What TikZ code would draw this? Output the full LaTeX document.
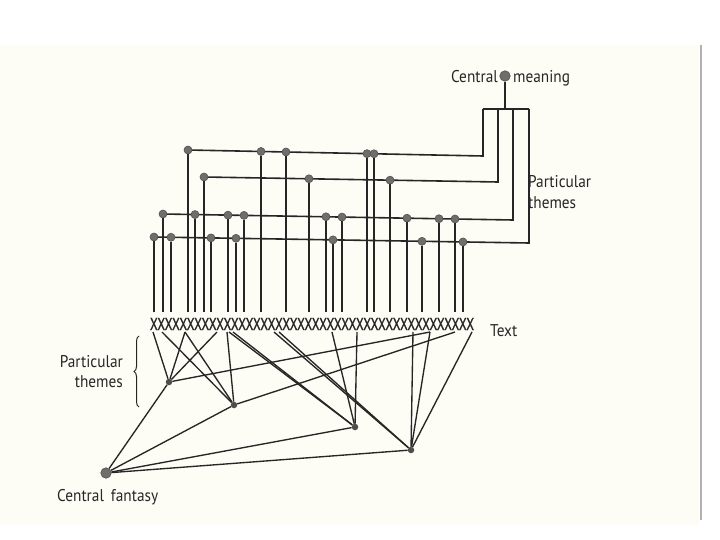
\documentclass[tikz,border=0pt]{standalone}
\usepackage{fontspec}
\setmainfont{PT Sans}[FakeStretch=0.9]
\newfontfamily\xrowfont{PT Sans}[FakeBold=1.2]
\usetikzlibrary{decorations.pathreplacing}
\definecolor{paper}{HTML}{FDFCF5}
\definecolor{ink}{HTML}{262626}
\definecolor{dotc}{HTML}{6E6E6A}
\begin{document}
\begin{tikzpicture}[x=1pt,y=-1pt,
  ln/.style={draw=ink,line width=1.6pt},
  thinln/.style={draw=ink,line width=1.35pt},
  dot/.style={circle,fill=dotc,draw=ink!80,line width=0.6pt,inner sep=0pt,minimum size=8pt},
  bigdot/.style={dot,minimum size=10.5pt},
  tdot/.style={circle,fill=dotc!70!black,inner sep=0pt,minimum size=6.5pt},
  lbl/.style={font=\fontsize{17}{20}\selectfont,text=ink,inner sep=0pt}]
\useasboundingbox (0,0) rectangle (720,540);
\fill[white] (0,0) rectangle (720,540);
\fill[paper] (0,45) rectangle (699,525);
\draw[gray!60,line width=1.5pt] (701,45) -- (701,520);

% central meaning
\node[bigdot] (cm) at (505,76) {};
\node[lbl,anchor=base east] (cmL) at (498,83) {Central};
\node[lbl,anchor=base west] (cmR) at (513,83) {meaning};
\coordinate (hub) at (505,109);
\coordinate (T1) at (483,109);
\coordinate (T2) at (498,109);
\coordinate (T3) at (513,109);
\coordinate (T4) at (529,109);
\draw[ln] (cm) -- (hub);
\draw[ln] (T1) -- (T4);

% particular theme lines (top)
\foreach \k/\xa/\ya/\xb/\yb/\ds in {
  1/188/150/483/156/{188,261,286,367,374},
  2/204/177/498/182/{204,309,390},
  3/163/214/513/220/{163,195,228,244,326,342,407,439,455},
  4/154/237/529/243/{154,171,211,236,333,422,463}}{
  \coordinate (L\k a) at (\xa,\ya);
  \coordinate (L\k b) at (\xb,\yb);
  \draw[ln] (L\k a) -- (L\k b) -- (T\k);
  \foreach \x in \ds {
    \pgfmathsetmacro\yy{\ya+(\x-\xa)*(\yb-\ya)/(\xb-\xa)}
    \coordinate (e\k-\x) at (\x,312);
    \node[dot] (d\k-\x) at (\x,\yy) {};
    \draw[ln] (d\k-\x) -- (e\k-\x);
  }
}
\node[lbl,anchor=base west] (ptR1) at (528,188) {Particular};
\node[lbl,anchor=base west] (ptR2) at (528,208) {themes};

% text row
\node[inner sep=0pt,text=ink] (txt) at (312,324)
  {\resizebox{324pt}{12pt}{\xrowfont XXXXXXXXXXXXXXXXXXXXXXXXXXXXXXXXXXXXXXXXXXXX}};
\node[lbl,anchor=base west] (txtL) at (490,336) {Text};

% lower themes
\node[tdot] (A) at (169,382) {};
\node[tdot] (B) at (234,405) {};
\node[tdot] (C) at (355,427) {};
\node[tdot] (D) at (411,450) {};
\node[bigdot] (CF) at (106,473) {};

\foreach \s/\t in {153/A,185/A,217/A,430/A,
                   162/B,185/B,227/B,455/B,
                   229/C,233/C,332/C,357/C,
                   274/D,279/D,413/D,430/D,472/D}{
  \coordinate (x\s) at (\s,332);
  \draw[thinln] (x\s) -- (\t);
}
\foreach \t in {A,B,C,D} \draw[thinln] (CF) -- (\t);

\draw[ink,line width=1pt,decorate,decoration={brace,amplitude=5pt}] (139,407) -- (139,336);
\node[lbl,anchor=base east] (ptL1) at (123,367) {Particular};
\node[lbl,anchor=base east] (ptL2) at (123,387) {themes};
\node[lbl,anchor=base west] (cfL) at (57,501) {Central\hspace{7pt}fantasy};
\end{tikzpicture}
\end{document}
